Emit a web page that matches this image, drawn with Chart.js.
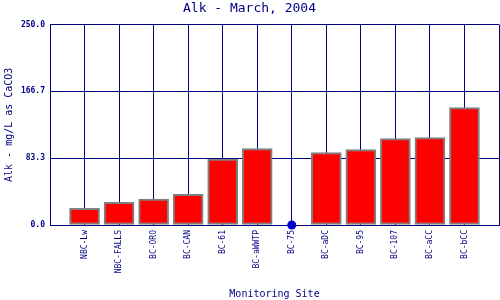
<!DOCTYPE html>
<html>
<head>
<meta charset="utf-8">
<script src="https://cdn.jsdelivr.net/npm/chart.js@4"></script>
<style>
html, body { margin: 0; padding: 0; background: #fff; }
#wrap { width: 500px; height: 300px; }
</style>
</head>
<body>
<div id="wrap"><canvas id="chart"></canvas></div>
<script>

// monitoring sites and alkalinity values (mg/L as CaCO3)
const sites = ["NBC-Lw","NBC-FALLS","BC-ORO","BC-CAN","BC-61","BC-aWWTP","BC-75","BC-aDC","BC-95","BC-107","BC-aCC","BC-bCC"]
const alk = [20.8, 28.2, 32.3, 38.2, 82.1, 95.4, 0, 90.4, 94.2, 107.8, 109.0, 146.4]
const yTicks = [0, 83.3, 166.7, 250]

const navy = "#000080"
const mono = "'DejaVu Sans Mono', 'Liberation Mono', monospace"

// empty slot at each end so the sites sit on the inner grid lines
const labels = ["", ...sites, ""]
const barData = [null, ...alk.map(v => v > 0 ? v : null), null]
const dotData = [null, ...alk.map(v => v === 0 ? v : null), null]

const chart = new Chart(document.getElementById("chart"), {

type: "bar",

data: {
labels: labels,
datasets: [{
label: "Alk",
data: barData,
backgroundColor: "#ff0000",
borderColor: "#808080",
borderWidth: 2,
borderSkipped: false,
barThickness: 30
},{
type: "line",
label: "zero",
data: dotData,
showLine: false,
clip: false,
pointRadius: 4.5,
pointBackgroundColor: "#0000cc",
pointBorderColor: "#0000cc",
pointBorderWidth: 0
}]
},

options: {
responsive: true,
maintainAspectRatio: false,
animation: false,
layout: { autoPadding: false, padding: { left: 0, right: 1, top: 0, bottom: 0 } },
plugins: {
legend: { display: false },
tooltip: { enabled: false },
title: {
display: true,
text: "Alk - March, 2004",
color: navy,
font: { family: mono, size: 13, weight: "normal" },
padding: { top: 1, bottom: 8 }
}
},
scales: {
x: {
offset: false,
grid: { color: navy, lineWidth: 1, drawTicks: false, offset: false },
border: { color: navy, width: 1 },
ticks: {
autoSkip: false,
maxRotation: 90,
minRotation: 90,
padding: 5,
color: navy,
font: { family: mono, size: 8 }
},
title: {
display: true,
text: "Monitoring Site",
color: navy,
font: { family: mono, size: 10 },
padding: { top: 0, bottom: 0 }
},
afterFit: s => { s.height = 75; s.paddingLeft = 0; s.paddingRight = 0 }
},
y: {
min: 0,
max: 250,
afterBuildTicks: s => { s.ticks = yTicks.map(v => ({ value: v })) },
grid: { color: navy, lineWidth: 1, drawTicks: false },
border: { color: navy, width: 1 },
ticks: {
padding: 5,
color: navy,
font: { family: mono, size: 8, weight: "bold" },
callback: v => Number(v).toFixed(1)
},
title: {
display: true,
text: "Alk - mg/L as CaCO3",
color: navy,
font: { family: mono, size: 10 },
padding: { top: 3, bottom: 0 }
},
afterFit: s => { s.width = 50; s.paddingTop = 0; s.paddingBottom = 0 }
}
}
}

})

</script>
</body>
</html>
